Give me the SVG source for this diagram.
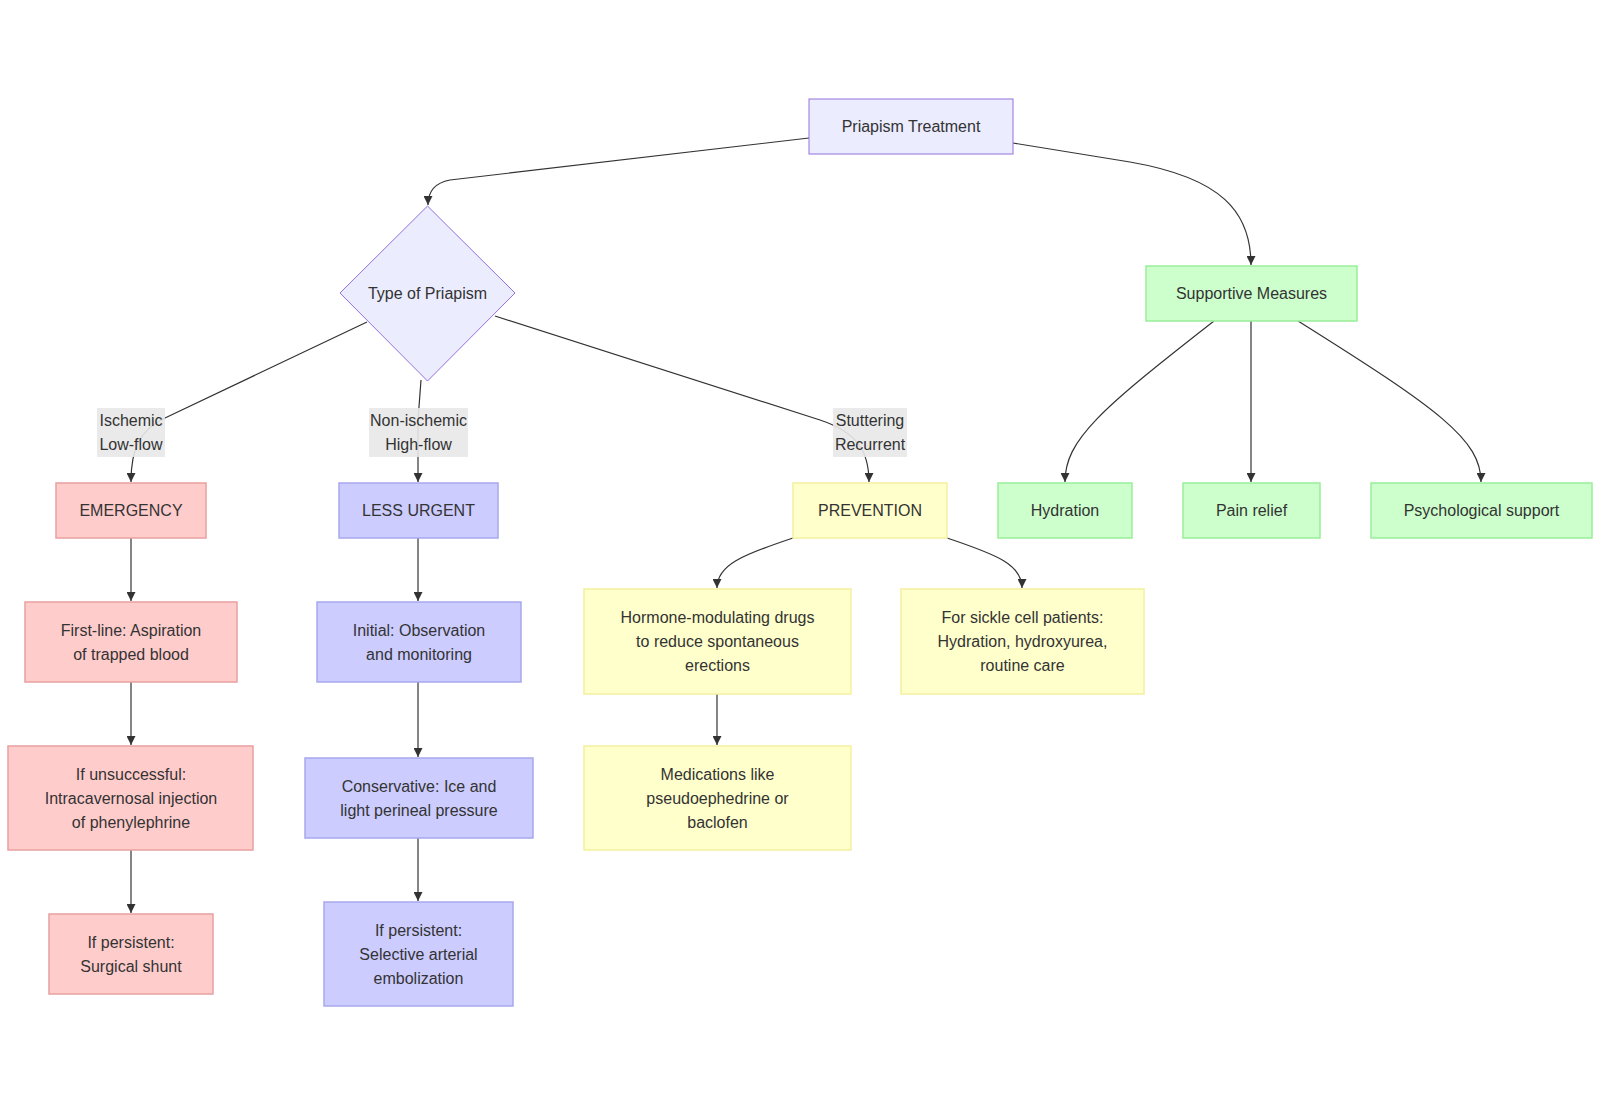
<svg xmlns="http://www.w3.org/2000/svg" width="1600" height="1105" viewBox="0 0 1600 1105">
<style>
  text { font-family: "Liberation Sans", Arial, sans-serif; font-size: 16px; fill: #333; text-anchor: middle; dominant-baseline: central; }
  .def { fill: #ECECFF; stroke: #9370DB; stroke-width: 1; }
  .red { fill: #FFCCCC; stroke: #E8A0A0; stroke-width: 1.5; }
  .blue { fill: #CCCCFF; stroke: #A8A8EE; stroke-width: 1.5; }
  .yel { fill: #FFFFCC; stroke: #F5F0A0; stroke-width: 1.5; }
  .grn { fill: #CCFFCC; stroke: #99EE99; stroke-width: 1.5; }
  .edge { fill: none; stroke: #333; stroke-width: 1.2; marker-end: url(#arrow); }
  .lbl { fill: #e8e8e8; opacity: 0.9; }
</style>
<defs>
  <marker id="arrow" viewBox="0 0 10 10" refX="10" refY="5" markerUnits="userSpaceOnUse" markerWidth="9" markerHeight="9" orient="auto">
    <path d="M0,0 L10,5 L0,10 z" fill="#333"/>
  </marker>
</defs>
<rect width="1600" height="1105" fill="#ffffff"/>

<g id="connectors">
  <path class="edge" d="M809,138 L450,180 Q428,184 428,205"/>
  <path class="edge" d="M1013,143 L1130,162 C1222,178 1251,212 1251,265"/>
  <path class="edge" d="M367,322 L165,418 C140,430 131,448 131,482"/>
  <path class="edge" d="M421,380 L418,420 L418,482"/>
  <path class="edge" d="M495,316 L820,420 C856,432 869,450 869,482"/>
  <path class="edge" d="M131,538 L131,601"/>
  <path class="edge" d="M131,682 L131,745"/>
  <path class="edge" d="M131,850 L131,913"/>
  <path class="edge" d="M418,538 L418,601"/>
  <path class="edge" d="M418,682 L418,757"/>
  <path class="edge" d="M418,838 L418,901"/>
  <path class="edge" d="M793,538 C742,555 717,565 717,588"/>
  <path class="edge" d="M947,538 C998,555 1022,565 1022,588"/>
  <path class="edge" d="M717,694 L717,745"/>
  <path class="edge" d="M1214,321 C1100,410 1065,440 1065,482"/>
  <path class="edge" d="M1251,321 L1251,482"/>
  <path class="edge" d="M1298,321 C1440,410 1481,440 1481,482"/>
  <g id="edge-labels">
    <rect class="lbl" x="97" y="408" width="68" height="49"/>
    <text x="131" y="420">Ischemic</text>
    <text x="131" y="444">Low-flow</text>
    <rect class="lbl" x="369" y="408" width="99" height="49"/>
    <text x="418.5" y="420">Non-ischemic</text>
    <text x="418.5" y="444">High-flow</text>
    <rect class="lbl" x="833" y="408" width="74" height="49"/>
    <text x="870" y="420">Stuttering</text>
    <text x="870" y="444">Recurrent</text>
  </g>
</g>

<g id="n-priapism">
  <rect class="def" x="809" y="99" width="204" height="55"/>
  <text x="911" y="126">Priapism Treatment</text>
</g>
<g id="n-type">
  <polygon class="def" points="427.5,206 515,293 427.5,381 340,293"/>
  <text x="427.5" y="293">Type of Priapism</text>
</g>
<g id="n-supportive">
  <rect class="grn" x="1146" y="266" width="211" height="55"/>
  <text x="1251.5" y="293">Supportive Measures</text>
</g>
<g id="n-emergency">
  <rect class="red" x="56" y="483" width="150" height="55"/>
  <text x="131" y="510">EMERGENCY</text>
</g>
<g id="n-lessurgent">
  <rect class="blue" x="339" y="483" width="159" height="55"/>
  <text x="418.5" y="510">LESS URGENT</text>
</g>
<g id="n-prevention">
  <rect class="yel" x="793" y="483" width="154" height="55"/>
  <text x="870" y="510">PREVENTION</text>
</g>
<g id="n-hydration">
  <rect class="grn" x="998" y="483" width="134" height="55"/>
  <text x="1065" y="510">Hydration</text>
</g>
<g id="n-pain">
  <rect class="grn" x="1183" y="483" width="137" height="55"/>
  <text x="1251.5" y="510">Pain relief</text>
</g>
<g id="n-psych">
  <rect class="grn" x="1371" y="483" width="221" height="55"/>
  <text x="1481.5" y="510">Psychological support</text>
</g>
<g id="n-firstline">
  <rect class="red" x="25" y="602" width="212" height="80"/>
  <text x="131" y="630">First-line: Aspiration</text>
  <text x="131" y="654">of trapped blood</text>
</g>
<g id="n-unsuccessful">
  <rect class="red" x="8" y="746" width="245" height="104"/>
  <text x="131" y="774">If unsuccessful:</text>
  <text x="131" y="798">Intracavernosal injection</text>
  <text x="131" y="822">of phenylephrine</text>
</g>
<g id="n-shunt">
  <rect class="red" x="49" y="914" width="164" height="80"/>
  <text x="131" y="942">If persistent:</text>
  <text x="131" y="966">Surgical shunt</text>
</g>
<g id="n-initial">
  <rect class="blue" x="317" y="602" width="204" height="80"/>
  <text x="419" y="630">Initial: Observation</text>
  <text x="419" y="654">and monitoring</text>
</g>
<g id="n-conservative">
  <rect class="blue" x="305" y="758" width="228" height="80"/>
  <text x="419" y="786">Conservative: Ice and</text>
  <text x="419" y="810">light perineal pressure</text>
</g>
<g id="n-embolization">
  <rect class="blue" x="324" y="902" width="189" height="104"/>
  <text x="418.5" y="930">If persistent:</text>
  <text x="418.5" y="954">Selective arterial</text>
  <text x="418.5" y="978">embolization</text>
</g>
<g id="n-hormone">
  <rect class="yel" x="584" y="589" width="267" height="105"/>
  <text x="717.5" y="617">Hormone-modulating drugs</text>
  <text x="717.5" y="641">to reduce spontaneous</text>
  <text x="717.5" y="665">erections</text>
</g>
<g id="n-sickle">
  <rect class="yel" x="901" y="589" width="243" height="105"/>
  <text x="1022.5" y="617">For sickle cell patients:</text>
  <text x="1022.5" y="641">Hydration, hydroxyurea,</text>
  <text x="1022.5" y="665">routine care</text>
</g>
<g id="n-medications">
  <rect class="yel" x="584" y="746" width="267" height="104"/>
  <text x="717.5" y="774">Medications like</text>
  <text x="717.5" y="798">pseudoephedrine or</text>
  <text x="717.5" y="822">baclofen</text>
</g>
</svg>
